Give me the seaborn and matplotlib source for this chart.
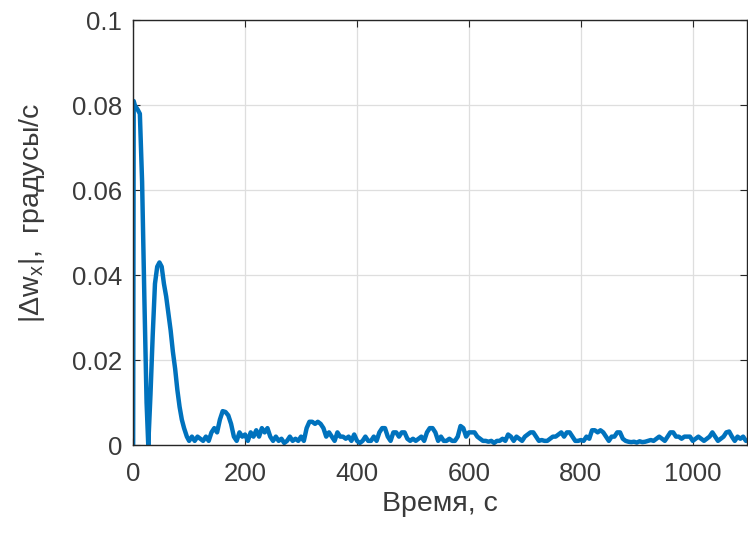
import matplotlib
matplotlib.use("Agg")
import matplotlib.pyplot as plt
import seaborn as sns
import pandas as pd

# Start of the record (0-96 s): big spike and the second hump
t_start = [0, 1, 3, 8, 12, 16, 20, 24, 27, 31,
           35, 39, 43, 47, 51, 55, 59, 63, 67, 71,
           75, 79, 83, 87, 91, 96]
v_start = [0.0, 0.081, 0.080, 0.079, 0.078, 0.062, 0.035, 0.010, 0.0, 0.012,
           0.026, 0.038, 0.042, 0.043, 0.042, 0.038, 0.035, 0.031, 0.027, 0.022,
           0.018, 0.013, 0.009, 0.006, 0.004, 0.002]

# Rest of the record, sampled every 5 s from 100 s to 1095 s (one row = 50 s)
t_tail = list(range(100, 1100, 5))
v_tail = [
    0.001, 0.002, 0.001, 0.002, 0.0015, 0.001, 0.002, 0.001, 0.003, 0.004,
    0.003, 0.006, 0.008, 0.0078, 0.007, 0.005, 0.002, 0.001, 0.003, 0.002,
    0.0025, 0.001, 0.003, 0.002, 0.0035, 0.002, 0.004, 0.003, 0.004, 0.002,
    0.001, 0.002, 0.001, 0.0015, 0.0005, 0.001, 0.002, 0.001, 0.0015, 0.001,
    0.002, 0.001, 0.004, 0.0055, 0.0055, 0.005, 0.0055, 0.005, 0.004, 0.002,
    0.003, 0.002, 0.001, 0.003, 0.002, 0.002, 0.0015, 0.002, 0.001, 0.0025,
    0.001, 0.0005, 0.001, 0.002, 0.001, 0.001, 0.002, 0.001, 0.003, 0.004,
    0.004, 0.002, 0.001, 0.003, 0.003, 0.002, 0.003, 0.003, 0.0015, 0.001,
    0.0015, 0.001, 0.0015, 0.002, 0.001, 0.003, 0.004, 0.004, 0.003, 0.001,
    0.002, 0.001, 0.001, 0.0015, 0.001, 0.001, 0.002, 0.0045, 0.004, 0.002,
    0.003, 0.003, 0.003, 0.002, 0.0015, 0.001, 0.001, 0.0008, 0.001, 0.0005,
    0.001, 0.001, 0.0015, 0.001, 0.0025, 0.002, 0.001, 0.002, 0.0015, 0.001,
    0.002, 0.0025, 0.003, 0.003, 0.002, 0.001, 0.0012, 0.001, 0.001, 0.0015,
    0.002, 0.002, 0.0025, 0.003, 0.002, 0.003, 0.003, 0.002, 0.001, 0.001,
    0.0012, 0.001, 0.002, 0.0015, 0.0035, 0.0035, 0.003, 0.0035, 0.003, 0.002,
    0.001, 0.002, 0.002, 0.003, 0.003, 0.0015, 0.001, 0.0008, 0.0007, 0.0008,
    0.0006, 0.0009, 0.0007, 0.0008, 0.001, 0.0012, 0.001, 0.0015, 0.002, 0.0015,
    0.001, 0.002, 0.003, 0.003, 0.002, 0.002, 0.0015, 0.002, 0.002, 0.002,
    0.001, 0.0015, 0.002, 0.0015, 0.001, 0.0015, 0.002, 0.003, 0.002, 0.001,
    0.0015, 0.002, 0.003, 0.0032, 0.002, 0.001, 0.002, 0.0015, 0.002, 0.001,
]

x_ticks = [0, 200, 400, 600, 800, 1000]
y_ticks = [0, 0.02, 0.04, 0.06, 0.08, 0.1]
y_tick_labels = ["0", "0.02", "0.04", "0.06", "0.08", "0.1"]

df = pd.DataFrame({"t": t_start + t_tail, "dwx": v_start + v_tail})

sns.set_style("ticks")
plt.rcParams["font.family"] = ["Liberation Sans", "DejaVu Sans"]
plt.rcParams["mathtext.fontset"] = "custom"
plt.rcParams["mathtext.rm"] = "Liberation Sans"

text_col = "#3a3a3a"

fig = plt.figure(figsize=(7.48, 5.35), dpi=100)
ax = fig.add_axes([0.178, 0.168, 0.820, 0.794])

sns.lineplot(data=df, x="t", y="dwx", ax=ax, color="#0072BD", linewidth=3.2,
             estimator=None, sort=False)

ax.set_xlim(0, 1096)
ax.set_ylim(0, 0.1)
ax.set_xticks(x_ticks)
ax.set_yticks(y_ticks)
ax.set_yticklabels(y_tick_labels)
ax.grid(True, color="#dedede", linewidth=0.9)
ax.set_axisbelow(True)

ax.tick_params(direction="in", top=True, right=True, length=5, width=0.8,
               color="#262626", labelcolor=text_col, labelsize=18.5)
ax.tick_params(axis="x", pad=12)
ax.tick_params(axis="y", pad=8)
for s in ax.spines.values():
    s.set_color("#262626")
    s.set_linewidth(1.0)

ax.set_xlabel("Время, с", fontsize=20.5, color=text_col, labelpad=3.5)
ax.set_ylabel(r"|Δw$_\mathrm{x}$|,  градусы/с", fontsize=20.5, color=text_col)
ax.yaxis.set_label_coords(-0.14, 0.548)

fig.savefig("out.png", dpi=100)
